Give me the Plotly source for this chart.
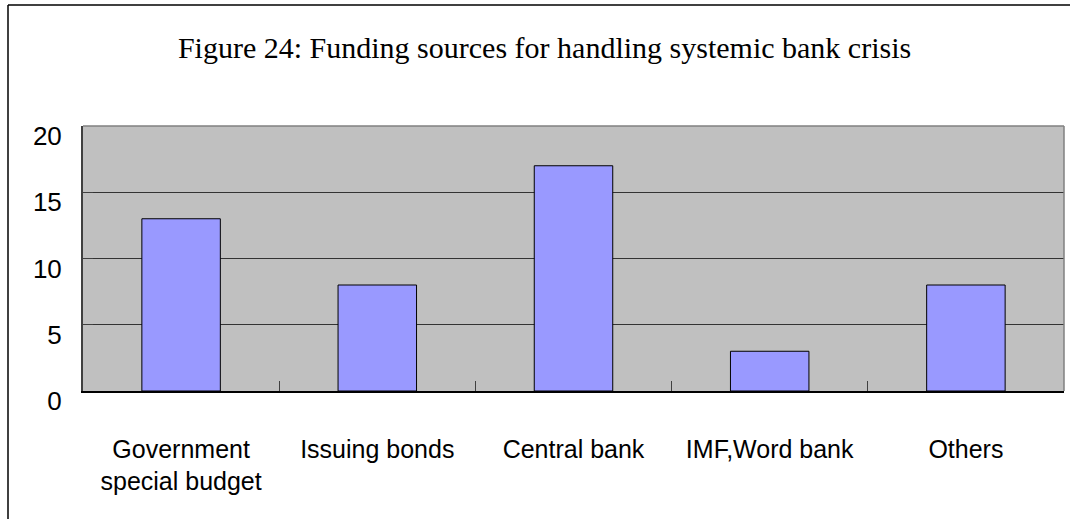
import plotly.graph_objects as go

# Funding sources and number of cases
categories = ["Government<br>special budget", "Issuing bonds", "Central bank",
              "IMF,Word bank", "Others"]
counts = [13, 8, 17, 3, 8]
y_ticks = [0, 5, 10, 15, 20]

title_text = "Figure 24: Funding sources for handling systemic bank crisis"

fig = go.Figure(
    go.Bar(
        x=categories,
        y=counts,
        marker=dict(color="#9999FF", line=dict(color="#000000", width=1)),
        hoverinfo="x+y",
    )
)

fig.update_layout(
    width=1072,
    height=519,
    margin=dict(l=83, r=8, t=126, b=128),
    paper_bgcolor="#FFFFFF",
    plot_bgcolor="#C0C0C0",
    bargap=0.6,
    showlegend=False,
    title=dict(
        text=title_text,
        x=0.508,
        xref="container",
        xanchor="center",
        y=1 - 47 / 519,
        yanchor="middle",
        font=dict(family="Liberation Serif, Times New Roman, serif", size=30, color="#000000"),
    ),
    font=dict(family="Liberation Sans, Arial, sans-serif", color="#000000"),
)

fig.update_xaxes(
    type="category",
    showgrid=False,
    showline=True,
    linecolor="#000000",
    linewidth=1.5,
    ticks="inside",
    tickson="boundaries",
    ticklen=10,
    tickcolor="#404040",
    tickfont=dict(size=25, color="#000000"),
    ticklabelstandoff=35,
)

fig.update_yaxes(
    range=[0, 20],
    tickvals=y_ticks,
    showgrid=True,
    gridcolor="#333333",
    gridwidth=1,
    zeroline=False,
    showline=True,
    linecolor="#404040",
    linewidth=2,
    ticks="inside",
    ticklen=10,
    tickcolor="#404040",
    tickfont=dict(size=26, color="#000000"),
    ticklabelstandoff=14,
    ticklabelshift=10,
)

# Light frame along the top and right of the plotting area
fig.add_shape(type="line", xref="paper", yref="paper", x0=0, x1=1, y0=1, y1=1,
              line=dict(color="#808080", width=1.5), layer="above")
fig.add_shape(type="line", xref="paper", yref="paper", x0=1, x1=1, y0=0, y1=1,
              line=dict(color="#808080", width=1.5), layer="above")

# Outer border of the figure (left and top edges)
fig.add_shape(type="line", xref="paper", yref="paper",
              xsizemode="pixel", xanchor=0, x0=-75, x1=-75,
              ysizemode="pixel", yanchor=1, y0=121, y1=-400,
              line=dict(color="#000000", width=1.5), layer="above")
fig.add_shape(type="line", xref="paper", yref="paper",
              xsizemode="pixel", xanchor=0, x0=-75, x1=987,
              ysizemode="pixel", yanchor=1, y0=121, y1=121,
              line=dict(color="#000000", width=1.5), layer="above")

fig.write_html("out.html")
